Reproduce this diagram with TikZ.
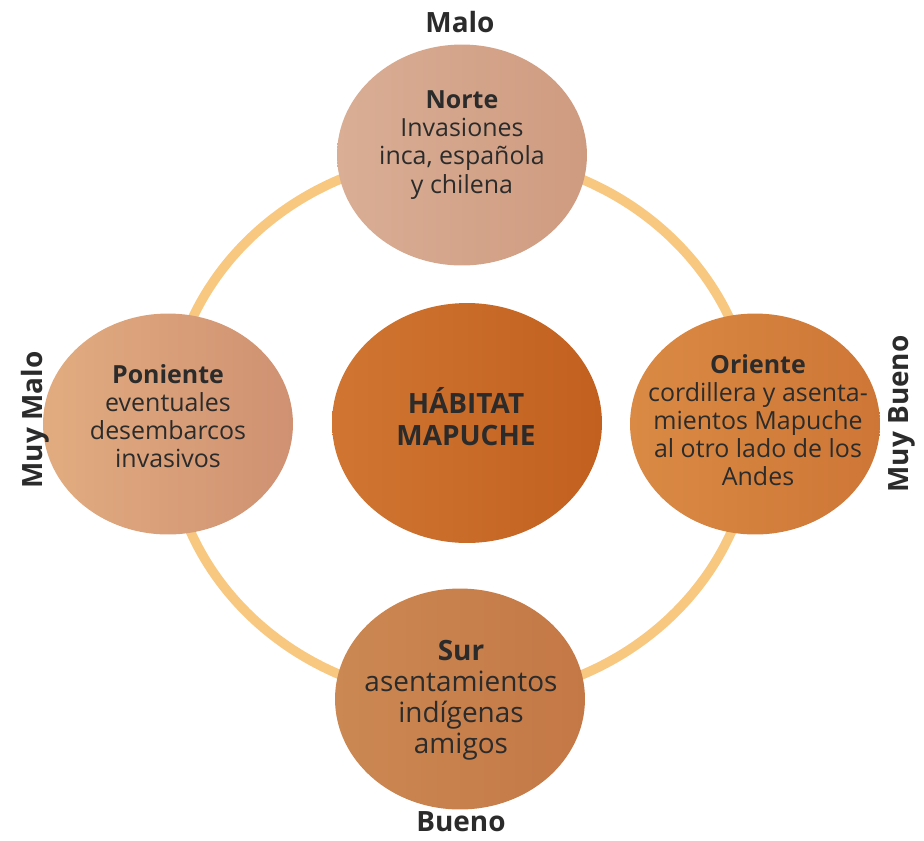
\documentclass[tikz,border=0pt]{standalone}
\usepackage{fontspec}
\setmainfont{Open Sans}
\usepackage{tikz}
\usetikzlibrary{shapes.geometric, positioning}
\definecolor{mapring}{HTML}{F8C880}
\definecolor{maptext}{HTML}{2B2B2B}
\definecolor{nortea}{HTML}{D9AE95}
\definecolor{norteb}{HTML}{CF9B80}
\definecolor{ponientea}{HTML}{E2AC80}
\definecolor{ponienteb}{HTML}{CF9172}
\definecolor{habitata}{HTML}{D07632}
\definecolor{habitatb}{HTML}{C2601F}
\definecolor{orientea}{HTML}{DA8A44}
\definecolor{orienteb}{HTML}{CE7636}
\definecolor{sura}{HTML}{CB8852}
\definecolor{surb}{HTML}{C47846}

\begin{document}
\begin{tikzpicture}[x=0.02cm,y=-0.02cm,font=\fontsize{14.2}{16}\selectfont,
    zona/.style={ellipse,inner sep=0pt,minimum width=5cm,minimum height=4.42cm},
    texto/.style={align=center,text=maptext},
    grado/.style={text=maptext,font=\fontsize{15.9}{18}\selectfont\bfseries}]
    \useasboundingbox (0,0) rectangle (924,840);
    \draw[line width=0.19cm,mapring] (461,427) ellipse [x radius=5.86cm,y radius=5.44cm];
    \foreach \n/\px/\py/\ca/\cb in {norte/462/155/nortea/norteb,poniente/168/424/ponientea/ponienteb,
        oriente/755/424/orientea/orienteb,sur/460/699/sura/surb}
      \node[zona,left color=\ca,right color=\cb] (\n) at (\px,\py) {};
    \node[zona,minimum width=5.4cm,minimum height=4.8cm,left color=habitata,right color=habitatb] (habitat) at (467,423) {};
    \node[texto] (norte-t) at (462,145) {\textbf{Norte}\\Invasiones\\inca, española\\y chilena};
    \node[texto] (poniente-t) at (168,416) {\textbf{Poniente}\\eventuales\\desembarcos\\invasivos};
    \node[texto] (oriente-t) at (758,420) {\textbf{Oriente}\\cordillera y asenta-\\mientos Mapuche\\al otro lado de los\\Andes};
    \node[texto,font=\fontsize{15.9}{17.6}\selectfont] (sur-t) at (461,700) {\textbf{Sur}\\asentamientos\\indígenas\\amigos};
    \node[texto,font=\fontsize{15.9}{18.2}\selectfont\bfseries] (habitat-t) at (466,417) {HÁBITAT\\MAPUCHE};
    \node[grado,anchor=base] (malo) at (460,32) {Malo};
    \node[grado,anchor=base] (bueno) at (461,831) {Bueno};
    \node[grado,anchor=base,rotate=90] (muymalo) at (42,420) {Muy Malo};
    \node[grado,anchor=base,rotate=90] (muybueno) at (908,414) {Muy Bueno};
\end{tikzpicture}
\end{document}
